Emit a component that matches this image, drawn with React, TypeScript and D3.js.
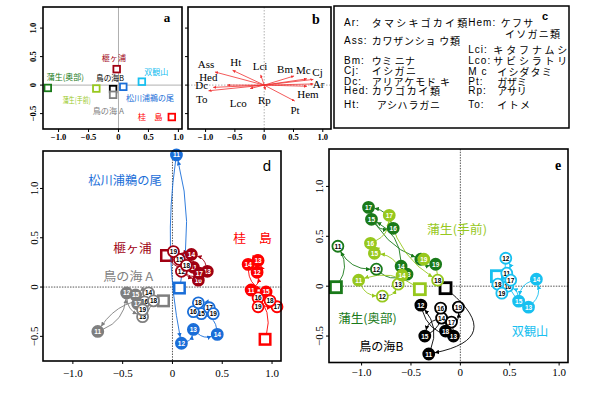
import React from 'react';
import * as d3 from 'd3';

// ---------- DATA ----------
const years = [11, 12, 13, 14, 15, 16, 17, 18, 19];

// panel a: site scores
const siteNames = ['榧ヶ浦', '鳥の海B', '鳥の海A', '松川浦鵜の尾', '双観山', '桂島', '蒲生(奥部)', '蒲生(手前)'];
const siteX = [-0.03, -0.09, -0.09, 0.08, 0.39, 0.89, -1.18, -0.37];
const siteY = [0.28, -0.07, -0.17, -0.03, 0.06, -0.56, -0.05, -0.06];
const siteLabels = ['榧ヶ浦', '鳥の海B', '鳥の海 A', '松川浦鵜の尾', '双観山', '桂　島', '蒲生(奥部)', '蒲生(手前)'];

// panel b: species vectors
const speciesCodes = ['Ass', 'Ht', 'Lci', 'Bm', 'Mc', 'Cj', 'Ar', 'Hem', 'Pt', 'Rp', 'Lco', 'To', 'Dc', 'Hed'];
const speciesX = [-0.84, -0.54, -0.06, 0.51, 0.73, 0.84, 0.84, 0.73, 0.52, 0.02, -0.24, -0.95, -0.87, -0.63];
const speciesY = [0.23, 0.26, 0.18, 0.16, 0.11, 0.1, 0.02, -0.02, -0.28, -0.08, -0.06, -0.1, -0.04, 0.0];

// panel c: legend
const legendLeftCodes = ['Ar:', 'Ass:', 'Bm:', 'Cj:', 'Dc:', 'Hed:', 'Ht:'];
const legendLeftNames = ['タマシキゴカイ類', 'カワザンショ ウ類', 'ウミ ニナ', 'イシガニ', 'アリアケモド キ', 'カワゴカイ類', 'アシハラガニ'];
const legendRightCodes = ['Hem:', '', 'Lci:', 'Lco:', 'M c', 'Pt:', 'Rp:', 'To:'];
const legendRightNames = ['ケフサ', 'イソガニ類', 'キタフナムシ', 'サビシラトリ', 'イシダタミ', 'ガザミ', 'アサリ', 'イトメ'];

// panel d trajectories (start square + years 11..19)
const matsuStart = [0.07, -0.01];
const matsuX = [0.04, 0.09, 0.21, 0.45, 0.29, 0.21, 0.37, 0.26, 0.41];
const matsuY = [1.34, -0.57, -0.43, -0.48, -0.27, -0.25, -0.21, -0.16, -0.27];
const kayaStart = [-0.06, 0.32];
const kayaX = [0.21, 0.09, 0.35, 0.19, 0.07, 0.26, 0.27, 0.14, 0.01];
const kayaY = [0.2, 0.16, 0.16, 0.33, 0.28, 0.07, 0.14, 0.22, 0.36];
const katsuraStart = [0.93, -0.53];
const katsuraX = [0.79, 0.85, 0.86, 0.76, 0.94, 0.86, 1.05, 0.98, 0.86];
const katsuraY = [-0.03, 0.15, 0.27, 0.23, -0.05, -0.11, -0.2, -0.14, -0.2];
const toriAStart = [-0.09, -0.14];
const toriAX = [-0.75, -0.46, -0.3, -0.24, -0.37, -0.28, -0.35, -0.19, -0.3];
const toriAY = [-0.45, -0.06, -0.3, -0.06, -0.08, -0.15, -0.17, -0.14, -0.23];

// panel e trajectories
const okuStart = [-1.26, -0.01];
const okuX = [-1.24, -0.85, -0.54, -0.6, -0.9, -0.68, -0.93, -0.4, -0.25];
const okuY = [0.4, 0.17, 0.12, 0.2, 0.67, 0.58, 0.79, 0.27, 0.22];
const temaeStart = [-0.41, -0.03];
const temaeX = [-1.03, -0.79, -0.63, -0.59, -0.87, -0.91, -0.72, -0.23, -0.37];
const temaeY = [0.06, -0.1, 0.02, 0.11, 0.33, 0.43, 0.71, 0.06, 0.27];
const toriBStart = [-0.15, -0.02];
const toriBX = [-0.32, -0.4, -0.07, -0.19, -0.36, -0.2, -0.09, -0.15, -0.02];
const toriBY = [-0.68, -0.19, -0.5, -0.32, -0.5, -0.22, -0.36, -0.45, -0.21];
const sokanStart = [0.37, 0.1];
const sokanX = [0.47, 0.46, 0.69, 0.77, 0.59, 0.48, 0.51, 0.38, 0.42];
const sokanY = [0.13, 0.28, -0.21, 0.07, -0.15, 0.0, 0.06, 0.02, -0.07];

const axisTicks = [-1, -0.5, 0, 0.5, 1];
const yTicks = [-0.5, 0, 0.5, 1];

// ---------- STYLE ----------
const C = {
  darkred: '#a00012',
  red: '#ff0000',
  blue: '#1a6ed8',
  cyan: '#18c0f0',
  gray: '#7f7f7f',
  black: '#000000',
  dkgreen: '#1a7a1a',
  ltgreen: '#97c81e',
};
const siteColors = [C.darkred, C.black, C.gray, C.blue, C.cyan, C.red, C.dkgreen, C.ltgreen];
const siteLabelLayout: number[][] = [
  [101.7, 126, 57.5], [96, 124, 77.5], [92.7, 124, 110], [126, 174, 97.5],
  [144.3, 168.3, 71], [137.7, 162.7, 116.5], [46.7, 84, 76.5], [62.7, 90.7, 99.5],
];
const speciesLabelLayout: number[][] = [
  [206, 64], [235.7, 62], [260, 65.7], [285, 69.3], [303.3, 70], [317.5, 71.7], [318.5, 84],
  [308, 94], [295, 110], [264.3, 100], [238.3, 103.3], [201.7, 99.3], [201.7, 85], [208.3, 77.3],
];

const SERIF = "'Liberation Serif', 'Times New Roman', serif";
const SANS = "'Liberation Sans', Arial, 'Noto Sans CJK JP', sans-serif";
const JP = "'Noto Sans CJK JP', 'Liberation Sans', sans-serif";

const fmt = (v: number) => (v === 0 ? '0' : d3.format('.1f')(v));

type Group = {
  key: string; color: string; start: number[]; xs: number[]; ys: number[]; hollow: number[];
  label: string; lx0: number; lx1: number; ly: number; startBend?: number;
};

const groupsD: Group[] = [
  { key: 'toriA', color: C.gray, start: toriAStart, xs: toriAX, ys: toriAY, hollow: [13, 14, 16, 18, 19], label: '鳥の海 A', lx0: 103.3, lx1: 153.3, ly: 275, startBend: 22 },
  { key: 'matsu', color: C.blue, start: matsuStart, xs: matsuX, ys: matsuY, hollow: [15, 16, 17, 18, 19], label: '松川浦鵜の尾', lx0: 88.3, lx1: 161.7, ly: 179.5 },
  { key: 'kaya', color: C.darkred, start: kayaStart, xs: kayaX, ys: kayaY, hollow: [12, 15, 18, 19], label: '榧ヶ浦', lx0: 113.3, lx1: 151.7, ly: 247.5 },
  { key: 'katsura', color: C.red, start: katsuraStart, xs: katsuraX, ys: katsuraY, hollow: [16, 17, 18, 19], label: '桂　島', lx0: 233.3, lx1: 271.7, ly: 237 },
];
const groupsE: Group[] = [
  { key: 'toriB', color: C.black, start: toriBStart, xs: toriBX, ys: toriBY, hollow: [14, 16, 17, 19], label: '鳥の海B', lx0: 359.3, lx1: 403.3, ly: 345, startBend: -70 },
  { key: 'oku', color: C.dkgreen, start: okuStart, xs: okuX, ys: okuY, hollow: [11, 12], label: '蒲生(奥部)', lx0: 338.3, lx1: 396.7, ly: 317 },
  { key: 'temae', color: C.ltgreen, start: temaeStart, xs: temaeX, ys: temaeY, hollow: [12, 13, 18], label: '蒲生(手前)', lx0: 427, lx1: 487, ly: 228.5 },
  { key: 'sokan', color: C.cyan, start: sokanStart, xs: sokanX, ys: sokanY, hollow: [11, 12, 16, 17, 18, 19], label: '双観山', lx0: 511.7, lx1: 548.3, ly: 330 },
];

// ---------- helpers ----------
function Frame({ x0, x1, y0, y1 }: { x0: number; x1: number; y0: number; y1: number }) {
  return <rect x={x0} y={y0} width={x1 - x0} height={y1 - y0} fill="none" stroke="#000" strokeWidth={1.6} />;
}

function Axes({ xs, ys, y1, x0, fontSize, bold, showY, showX, xLabY, yLabX }: any) {
  return (
    <g>
      {axisTicks.map((t) => (
        <g key={'x' + t}>
          <line x1={xs(t)} x2={xs(t)} y1={y1} y2={y1 + 3} stroke="#000" strokeWidth={1} />
          {showX && (
            <text x={xs(t)} y={xLabY} textAnchor="middle" dominantBaseline="central" fontFamily={SERIF} fontSize={fontSize} fontWeight={bold ? 'bold' : 'normal'}>{fmt(t)}</text>
          )}
        </g>
      ))}
      {yTicks.map((t) => (
        <g key={'y' + t}>
          <line x1={x0 - 3} x2={x0} y1={ys(t)} y2={ys(t)} stroke="#000" strokeWidth={1} />
          {showY && (
            <text transform={`translate(${yLabX},${ys(t)}) rotate(-90)`} textAnchor="middle" dominantBaseline="central" fontFamily={SERIF} fontSize={fontSize} fontWeight={bold ? 'bold' : 'normal'}>{fmt(t)}</text>
          )}
        </g>
      ))}
    </g>
  );
}

function segPath(p: number[], q: number[], off: number | undefined, r0: number, r1: number) {
  const dx = q[0] - p[0], dy = q[1] - p[1];
  const len = Math.hypot(dx, dy) || 1;
  const o = off === undefined ? Math.min(len * 0.3, 16) : off;
  const cx = (p[0] + q[0]) / 2 - (dy / len) * o;
  const cy = (p[1] + q[1]) / 2 + (dx / len) * o;
  const sx = cx - p[0], sy = cy - p[1];
  const sl = Math.hypot(sx, sy) || 1;
  const ex = q[0] - cx, ey = q[1] - cy;
  const el = Math.hypot(ex, ey) || 1;
  const path = d3.path();
  path.moveTo(p[0] + (sx / sl) * r0, p[1] + (sy / sl) * r0);
  path.quadraticCurveTo(cx, cy, q[0] - (ex / el) * r1, q[1] - (ey / el) * r1);
  return path.toString();
}

function Trajectories({ groups, xs, ys, r, sq, sqStroke }: any) {
  return (
    <g>
      <defs>
        {groups.map((g: Group) => (
          <marker key={g.key} id={'arr-' + g.key} viewBox="0 0 6 6" refX={6} refY={3} markerWidth={4.5} markerHeight={4.5} markerUnits="userSpaceOnUse" orient="auto">
            <path d="M0,0L6,3L0,6z" fill={g.color} />
          </marker>
        ))}
      </defs>
      {groups.map((g: Group) => (
        <rect key={'sq' + g.key} x={xs(g.start[0]) - sq / 2} y={ys(g.start[1]) - sq / 2} width={sq} height={sq} fill="#fff" stroke={g.color} strokeWidth={sqStroke} />
      ))}
      {groups.map((g: Group) => {
        const pts = [[xs(g.start[0]), ys(g.start[1])], ...g.xs.map((v, i) => [xs(v), ys(g.ys[i])])];
        return (
          <g key={'ln' + g.key}>
            {pts.slice(1).map((q, i) => (
              <path key={i} d={segPath(pts[i], q, i === 0 ? g.startBend : undefined, i === 0 ? sq / 2 : r, r + 0.5)} fill="none" stroke={g.color} strokeWidth={0.9} markerEnd={`url(#arr-${g.key})`} />
            ))}
          </g>
        );
      })}
      {groups.map((g: Group) => (
        <g key={'pt' + g.key}>
          {years.map((yr, i) => {
            const hollow = g.hollow.includes(yr);
            return (
              <g key={yr} transform={`translate(${xs(g.xs[i])},${ys(g.ys[i])})`}>
                <circle r={r} fill={hollow ? '#fff' : g.color} stroke={g.color} strokeWidth={1.8} />
                <text textAnchor="middle" dominantBaseline="central" fontFamily={SANS} fontWeight="bold" fontSize={6.5} fill={hollow ? '#000' : '#fff'}>{yr}</text>
              </g>
            );
          })}
        </g>
      ))}
      {groups.map((g: Group) => (
        <text key={'lb' + g.key} x={g.lx0} y={g.ly} dominantBaseline="central" fontFamily={JP} fontSize={12} fill={g.color} textLength={g.lx1 - g.lx0} lengthAdjust="spacingAndGlyphs">{g.label}</text>
      ))}
    </g>
  );
}

export default function App() {
  // panel a / b scales
  const xa = d3.scaleLinear().domain([-1.26, 1.06]).range([43, 182]);
  const yab = d3.scaleLinear().domain([-0.77, 1.37]).range([129, 7]);
  const xb = d3.scaleLinear().domain([-1.3, 1.14]).range([188, 331]);
  // panel d / e scales
  const xd = d3.scaleLinear().domain([-1.3, 1.09]).range([43, 281]);
  const yd = d3.scaleLinear().domain([-0.75, 1.38]).range([361, 151]);
  const xe = d3.scaleLinear().domain([-1.33, 1.09]).range([329, 568]);
  const ye = d3.scaleLinear().domain([-0.765, 1.375]).range([362.5, 149]);

  const leftRows = [22.7, 40, 60, 70.7, 81, 90.7, 104.3];
  const leftJx0 = [371.7, 371.7, 371.7, 371.7, 371.7, 371.7, 376.7];
  const leftJx1 = [467.3, 460, 415, 416, 450, 440, 440];
  const rightRows = [22.7, 33.3, 49.3, 60, 71, 81, 90.3, 104];
  const rightJx0 = [500.7, 505, 493.3, 493.3, 497.3, 497.3, 497.3, 497.3];
  const rightJx1 = [533.3, 560, 567.3, 567.3, 551.7, 526.7, 526.7, 530];

  return (
    <svg width={604} height={393} style={{ position: 'absolute', left: 0, top: 0, background: '#fff' }}>
      <rect width={604} height={393} fill="#fff" />

      {/* ---------- panel a ---------- */}
      <line x1={xa(0)} x2={xa(0)} y1={7} y2={129} stroke="#b0b0b0" strokeWidth={1} />
      <line x1={43} x2={182} y1={yab(0)} y2={yab(0)} stroke="#b0b0b0" strokeWidth={1} />
      {siteNames.map((n, i) => (
        <rect key={n} x={xa(siteX[i]) - 3.3} y={yab(siteY[i]) - 3.3} width={6.6} height={6.6} fill="#fff" stroke={siteColors[i]} strokeWidth={1.8} />
      ))}
      {siteLabels.map((n, i) => (
        <text key={n} x={siteLabelLayout[i][0]} y={siteLabelLayout[i][2]} dominantBaseline="central" fontFamily={JP} fontSize={8} fill={siteColors[i]} textLength={siteLabelLayout[i][1] - siteLabelLayout[i][0]} lengthAdjust="spacingAndGlyphs">{n}</text>
      ))}
      <Frame x0={43} x1={182} y0={7} y1={129} />
      <Axes xs={xa} ys={yab} y1={129} x0={43} fontSize={8.5} bold showX showY xLabY={137} yLabX={33} />
      <text x={167} y={17} textAnchor="middle" dominantBaseline="central" fontFamily={SERIF} fontWeight="bold" fontSize={13}>a</text>

      {/* ---------- panel b ---------- */}
      <line x1={xb(0)} x2={xb(0)} y1={7} y2={129} stroke="#b0b0b0" strokeWidth={1} strokeDasharray="1.5,1.5" />
      <line x1={188} x2={331} y1={yab(0)} y2={yab(0)} stroke="#b0b0b0" strokeWidth={1} strokeDasharray="1.5,1.5" />
      <defs>
        <marker id="arr-b" viewBox="0 0 6 6" refX={6} refY={3} markerWidth={3} markerHeight={3} markerUnits="userSpaceOnUse" orient="auto">
          <path d="M0,0L6,3L0,6z" fill="#f03030" />
        </marker>
      </defs>
      {speciesCodes.map((c, i) => (
        <line key={c} x1={xb(0)} y1={yab(0)} x2={xb(speciesX[i])} y2={yab(speciesY[i])} stroke="#f03030" strokeWidth={0.8} markerEnd="url(#arr-b)" />
      ))}
      {speciesCodes.map((c, i) => (
        <text key={'t' + c} x={speciesLabelLayout[i][0]} y={speciesLabelLayout[i][1]} textAnchor="middle" dominantBaseline="central" fontFamily={SERIF} fontSize={11}>{c}</text>
      ))}
      <Frame x0={188} x1={331} y0={7} y1={129} />
      <Axes xs={xb} ys={yab} y1={129} x0={188} fontSize={8.5} bold showX showY={false} xLabY={137} yLabX={0} />
      <text x={316} y={19} textAnchor="middle" dominantBaseline="central" fontFamily={SERIF} fontWeight="bold" fontSize={14}>b</text>

      {/* ---------- panel c ---------- */}
      <rect x={334} y={6} width={235} height={122} fill="#fff" stroke="#000" strokeWidth={1.5} />
      {legendLeftCodes.map((c, i) => (
        <g key={'lc' + i}>
          <text x={344} y={leftRows[i]} dominantBaseline="central" fontFamily={SANS} fontSize={10} letterSpacing={1}>{c}</text>
          <text x={leftJx0[i]} y={leftRows[i]} dominantBaseline="central" fontFamily={JP} fontSize={10} textLength={leftJx1[i] - leftJx0[i]} lengthAdjust="spacing">{legendLeftNames[i]}</text>
        </g>
      ))}
      {legendRightCodes.map((c, i) => (
        <g key={'rc' + i}>
          {c && <text x={468.3} y={rightRows[i]} dominantBaseline="central" fontFamily={SANS} fontSize={10} letterSpacing={1}>{c}</text>}
          <text x={rightJx0[i]} y={rightRows[i]} dominantBaseline="central" fontFamily={JP} fontSize={10} textLength={rightJx1[i] - rightJx0[i]} lengthAdjust="spacing">{legendRightNames[i]}</text>
        </g>
      ))}
      <text x={545} y={16} textAnchor="middle" dominantBaseline="central" fontFamily={SANS} fontWeight="bold" fontSize={11}>c</text>

      {/* ---------- panel d ---------- */}
      <line x1={xd(0)} x2={xd(0)} y1={151} y2={361} stroke="#555" strokeWidth={1} strokeDasharray="1.5,1.2" />
      <line x1={43} x2={281} y1={yd(0)} y2={yd(0)} stroke="#555" strokeWidth={1} strokeDasharray="1.5,1.2" />
      <Trajectories groups={groupsD} xs={xd} ys={yd} r={5.5} sq={10.5} sqStroke={2.5} />
      <Frame x0={43} x1={281} y0={151} y1={361} />
      <Axes xs={xd} ys={yd} y1={361} x0={43} fontSize={11} showX showY xLabY={373} yLabX={34} />
      <text x={267} y={165} textAnchor="middle" dominantBaseline="central" fontFamily={SANS} fontSize={15}>d</text>

      {/* ---------- panel e ---------- */}
      <line x1={xe(0)} x2={xe(0)} y1={149} y2={362.5} stroke="#555" strokeWidth={1} strokeDasharray="1.5,1.2" />
      <line x1={329} x2={568} y1={ye(0)} y2={ye(0)} stroke="#555" strokeWidth={1} strokeDasharray="1.5,1.2" />
      <Trajectories groups={groupsE} xs={xe} ys={ye} r={5.5} sq={11} sqStroke={2.8} />
      <Frame x0={329} x1={568} y0={149} y1={362.5} />
      <Axes xs={xe} ys={ye} y1={362.5} x0={329} fontSize={11} showX showY xLabY={372} yLabX={319} />
      <text x={558} y={165} textAnchor="middle" dominantBaseline="central" fontFamily={SERIF} fontWeight="bold" fontSize={14}>e</text>
    </svg>
  );
}
